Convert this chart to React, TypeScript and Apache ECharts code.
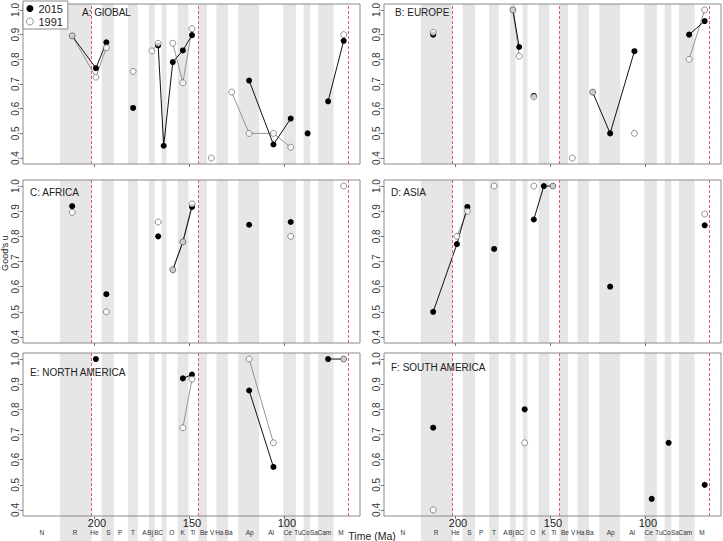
import { useEffect, useRef } from 'react';
import * as echarts from 'echarts';

const N = null;

// Stage abbreviations (oldest -> youngest)
const stageNames = ['N', 'R', 'He', 'S', 'P', 'T', 'A', 'Bj', 'B', 'C', 'O', 'K', 'Ti', 'Be', 'V', 'Ha', 'Ba', 'Ap', 'Al', 'Ce', 'Tu', 'Co', 'Sa', 'Cam', 'M'];
// Stage boundaries in Ma (base of N ... top of M)
const stageBoundaries = [237, 218, 201.3, 196, 189.5, 182, 177, 171, 168, 164.3, 161.8, 156, 150.3, 145, 140.5, 135.5, 129.5, 124, 113, 100.3, 93.7, 89.6, 86.1, 82, 73.8, 66];
// Ages at which each stage's value is plotted (Ma)
const stagePointAge = [227.5, 211.5, 199, 193.5, 186, 179.4, 173.5, 169.5, 166.2, 163.3, 158.5, 153.2, 148.4, 142.5, 138.2, 132.5, 127.5, 118.3, 105.5, 96.4, 91.7, 87.5, 84, 76.7, 68.5];
// Ages at which stage abbreviations are written under the time axis
const stageLabelAge = [227.5, 210, 199.8, 192.4, 186.2, 179.5, 173.5, 170.4, 167.1, 164.9, 159, 153.3, 148, 142.1, 137.8, 134, 129.1, 118, 106.7, 98, 92.6, 88.6, 84.2, 78.7, 69.9];
// Mass-extinction boundaries (red dashed)
const boundaryLines = [201.3, 145, 66];
const timeTicks = [200, 150, 100];
const uTicks = [0.4, 0.5, 0.6, 0.7, 0.8, 0.9, 1.0];

const panelTitles = ['A: GlOBAL', 'B: EUROPE', 'C: AFRICA', 'D: ASIA', 'E: NORTH AMERICA', 'F: SOUTH AMERICA'];

//                 N  R      He     S      P  T      A  Bj     B      C      O      K      Ti     Be V    Ha Ba     Ap     Al     Ce     Tu Co     Sa Cam   M
const global2015 = [N, 0.895, 0.764, 0.869, N, 0.603, N, N, 0.856, 0.45, 0.789, 0.836, 0.898, N, N, N, N, 0.714, 0.455, 0.56, N, 0.5, N, 0.63, 0.875];
const global1991 = [N, 0.895, 0.728, 0.847, N, 0.751, N, 0.834, 0.865, N, 0.865, 0.705, 0.924, N, 0.4, N, 0.667, 0.5, 0.5, 0.444, N, N, N, N, 0.9];
const europe2015 = [N, 0.9, N, N, N, N, N, 1.0, 0.85, N, 0.652, N, N, N, N, N, 0.667, 0.5, 0.833, N, N, N, N, 0.9, 0.955];
const europe1991 = [N, 0.909, N, N, N, N, N, 1.0, 0.813, N, 0.648, N, N, N, 0.4, N, 0.667, N, 0.5, N, N, N, N, 0.8, 1.0];
const africa2015 = [N, 0.92, N, 0.57, N, N, N, N, 0.8, N, 0.667, 0.778, 0.917, N, N, N, N, 0.846, N, 0.857, N, N, N, N, N];
const africa1991 = [N, 0.895, N, 0.5, N, N, N, N, 0.857, N, 0.667, 0.778, 0.929, N, N, N, N, N, N, 0.8, N, N, N, N, 1.0];
const asia2015 = [N, 0.5, 0.769, 0.917, N, 0.75, N, N, N, N, 0.867, 1.0, 1.0, N, N, N, N, 0.6, N, N, N, N, N, N, 0.844];
const asia1991 = [N, N, 0.8, 0.9, N, 1.0, N, N, N, N, 1.0, N, 1.0, N, N, N, N, N, N, N, N, N, N, N, 0.889];
const northAmerica2015 = [N, N, 1.0, N, N, N, N, N, N, N, N, 0.923, 0.938, N, N, N, N, 0.875, 0.571, N, N, N, N, 1.0, 1.0];
const northAmerica1991 = [N, N, N, N, N, N, N, N, N, N, N, 0.727, 0.92, N, N, N, N, 1.0, 0.667, N, N, N, N, N, 1.0];
const southAmerica2015 = [N, 0.727, N, N, N, N, N, N, N, 0.8, N, N, N, N, N, N, N, N, N, 0.444, N, 0.667, N, N, 0.5];
const southAmerica1991 = [N, 0.4, N, N, N, N, N, N, N, 0.667, N, N, N, N, N, N, N, N, N, N, N, N, N, N, N];

const series2015 = [global2015, europe2015, africa2015, asia2015, northAmerica2015, southAmerica2015];
const series1991 = [global1991, europe1991, africa1991, asia1991, northAmerica1991, southAmerica1991];

// ---- layout ----
const W = 723;
const H = 541;
const COL_LEFT = [23, 384];
const ROW_TOP = [1, 180, 353];
const PW = 337;
const PH = 163;
const X_MIN = 59.9;
const X_MAX = 237.4;
const Y_MIN = 0.376;
const Y_MAX = 1.024;
const TITLE_POS = [[82, 12], [395, 12], [30, 192], [391, 192], [30, 372], [391, 367]];
const FONT = "'Liberation Sans', Arial, sans-serif";
const NARROW = "'Liberation Sans Narrow', 'Liberation Sans', Arial, sans-serif";

export default function App() {
  const ref = useRef<HTMLDivElement>(null);

  useEffect(() => {
    if (!ref.current) return;
    const chart = echarts.init(ref.current, null, { renderer: 'svg' });

    const shadedBands: number[][] = [];
    for (let k = 1; k < stageNames.length; k += 2) {
      shadedBands.push([stageBoundaries[k], stageBoundaries[k + 1]]);
    }

    const grids: any[] = [];
    const xAxes: any[] = [];
    const yAxes: any[] = [];
    const series: any[] = [];
    const graphics: any[] = [];

    for (let i = 0; i < 6; i++) {
      const col = i % 2;
      const row = Math.floor(i / 2);
      const bottomRow = row === 2;
      grids.push({
        left: COL_LEFT[col], top: ROW_TOP[row], width: PW, height: PH,
        show: true, borderColor: '#8a8a8a', borderWidth: 1, backgroundColor: 'transparent', z: 6,
      });
      xAxes.push({
        gridIndex: i, type: 'value', min: X_MIN, max: X_MAX, inverse: true, z: 7,
        axisLine: { show: false }, splitLine: { show: false },
        axisTick: { show: true, length: 3, customValues: timeTicks, lineStyle: { color: '#777', width: 1 } },
        axisLabel: {
          show: bottomRow, customValues: timeTicks, margin: 1, fontSize: 11, color: '#222',
          fontFamily: FONT, padding: [0, 0, 0, 6],
        },
      });
      yAxes.push({
        gridIndex: i, type: 'value', min: Y_MIN, max: Y_MAX, z: 7,
        axisLine: { show: false }, splitLine: { show: false },
        axisTick: { show: true, length: 3, customValues: uTicks, lineStyle: { color: '#777', width: 1 } },
        axisLabel: {
          customValues: uTicks, rotate: 90, margin: 3, fontSize: 10, color: '#333', fontFamily: FONT,
          formatter: (v: any) => Number(v).toFixed(1),
        },
      });

      // grey stage bands
      series.push({
        type: 'custom', xAxisIndex: i, yAxisIndex: i, z: 1, silent: true, clip: false,
        data: shadedBands,
        renderItem: (params: any, api: any) => {
          const a = api.coord([api.value(0), 0.5]);
          const b = api.coord([api.value(1), 0.5]);
          const cs = params.coordSys;
          const extra = bottomRow ? 40 : 0;
          return {
            type: 'rect',
            shape: { x: Math.min(a[0], b[0]), y: cs.y, width: Math.abs(b[0] - a[0]), height: cs.height + extra },
            style: { fill: '#e6e6e6', stroke: null },
          };
        },
      });

      const d2015 = series2015[i];
      const d1991 = series1991[i];
      // 1991 connecting line
      series.push({
        name: '1991line', type: 'line', xAxisIndex: i, yAxisIndex: i, z: 3, silent: true,
        showSymbol: false, connectNulls: false,
        data: stagePointAge.map((a, k) => [a, d1991[k] == null ? '-' : d1991[k]]),
        lineStyle: { color: '#8a8a8a', width: 0.9 },
        itemStyle: { color: '#8a8a8a' },
      });
      // 2015 line + points, with the red dashed boundaries
      series.push({
        name: '2015', type: 'line', xAxisIndex: i, yAxisIndex: i, z: 4, silent: true,
        showSymbol: true, showAllSymbol: true, symbol: 'circle', symbolSize: 6, connectNulls: false,
        data: stagePointAge.map((a, k) => [a, d2015[k] == null ? '-' : d2015[k]]),
        lineStyle: { color: '#111', width: 1 },
        itemStyle: { color: '#000', borderWidth: 0 },
        markLine: {
          silent: true, symbol: ['none', 'none'], animation: false,
          label: { show: false },
          lineStyle: { color: '#ec5a60', width: 1, type: [3, 2], opacity: 1 },
          emphasis: { disabled: true },
          data: boundaryLines.map((b) => ({ xAxis: b, lineStyle: { color: '#ec5a60' } })),
        },
      });
      // 1991 open points (white filled, drawn on top)
      series.push({
        name: '1991', type: 'scatter', xAxisIndex: i, yAxisIndex: i, z: 5, silent: true,
        symbol: 'circle', symbolSize: 6,
        data: stagePointAge.map((a, k) => [a, d1991[k]]).filter((p) => p[1] != null),
        itemStyle: { color: '#fff', borderColor: '#555', borderWidth: 0.8 },
      });

      graphics.push({
        type: 'text', x: TITLE_POS[i][0], y: TITLE_POS[i][1], z: 20,
        style: { text: panelTitles[i], fontSize: 10, fill: '#222', fontFamily: NARROW, align: 'left', verticalAlign: 'middle' },
      });
    }

    // stage abbreviation axes for bottom row
    for (const gi of [4, 5]) {
      xAxes.push({
        gridIndex: gi, type: 'value', min: X_MIN, max: X_MAX, inverse: true, position: 'bottom', z: 7,
        axisLine: { show: false }, axisTick: { show: false }, splitLine: { show: false },
        axisLabel: {
          customValues: stageLabelAge, margin: 13, fontSize: 6.5, color: '#333', fontFamily: NARROW,
          formatter: (v: any) => {
            const idx = stageLabelAge.indexOf(Number(v));
            return idx >= 0 ? stageNames[idx] : '';
          },
        },
      });
    }

    graphics.push({
      type: 'text', x: 5, y: 253, rotation: Math.PI / 2, z: 20,
      style: { text: "Good's u", fontSize: 9, fill: '#222', fontFamily: FONT, align: 'center', verticalAlign: 'middle' },
    });
    graphics.push({
      type: 'text', x: 372, y: 536, z: 20,
      style: { text: 'Time (Ma)', fontSize: 10.5, fill: '#222', fontFamily: FONT, align: 'center', verticalAlign: 'middle' },
    });

    chart.setOption({
      animation: false,
      textStyle: { fontFamily: FONT },
      grid: grids,
      xAxis: xAxes,
      yAxis: yAxes,
      series,
      graphic: graphics,
      legend: {
        left: 23, top: 1, orient: 'vertical', selectedMode: false, z: 30,
        backgroundColor: '#fff', borderColor: '#8a8a8a', borderWidth: 1, borderRadius: 0,
        padding: [1, 5, 1, 3], itemGap: 0, itemWidth: 7, itemHeight: 7,
        textStyle: { fontSize: 11, color: '#222', lineHeight: 13, fontFamily: FONT },
        data: [
          { name: '2015', icon: 'circle', itemStyle: { color: '#000', borderWidth: 0 } },
          { name: '1991', icon: 'circle', itemStyle: { color: '#fff', borderColor: '#555', borderWidth: 0.8 } },
        ],
      },
    });

    return () => chart.dispose();
  }, []);

  return <div ref={ref} style={{ position: 'fixed', left: 0, top: 0, width: W, height: H, background: '#fff' }} />;
}
